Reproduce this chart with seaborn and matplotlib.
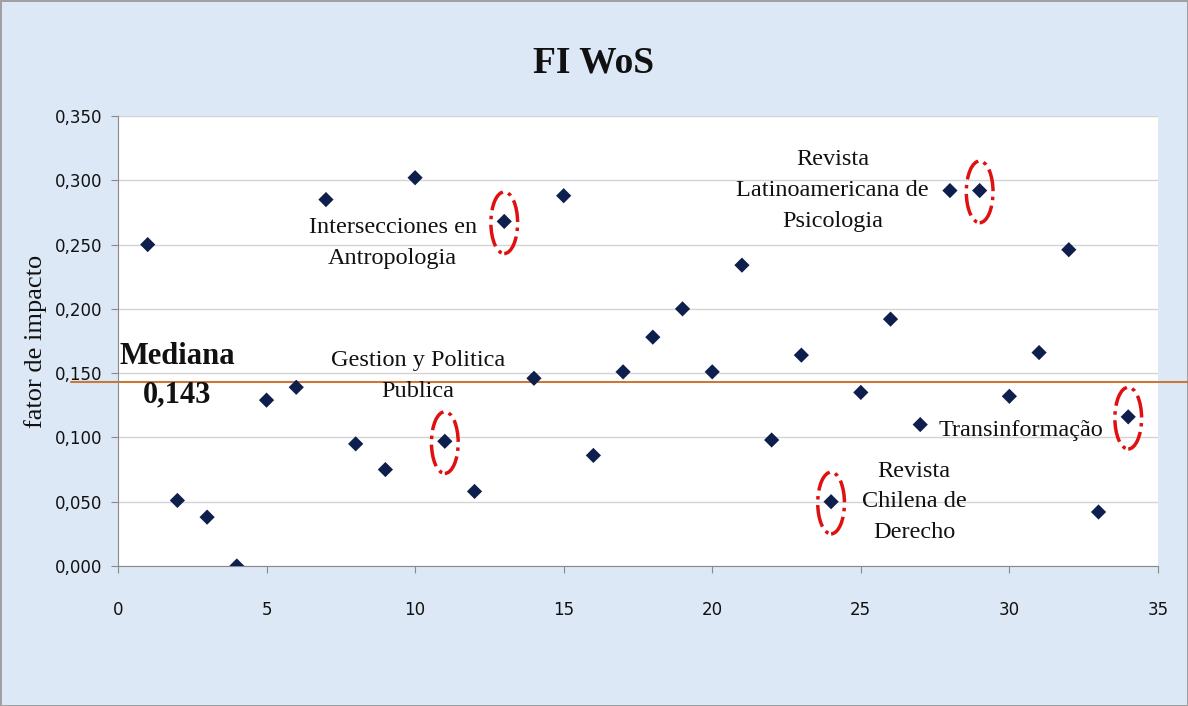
import pandas as pd
import matplotlib.pyplot as plt
import seaborn as sns
from matplotlib.patches import Ellipse
from matplotlib.ticker import FuncFormatter, MultipleLocator

sns.set_style("white")
plt.rcParams['font.family'] = ['Liberation Serif', 'DejaVu Serif']
plt.rcParams['text.color'] = '#111111'
plt.rcParams['axes.labelcolor'] = '#111111'
plt.rcParams['xtick.color'] = '#111111'
plt.rcParams['ytick.color'] = '#111111'

# journal index and its WoS impact factor
journal = list(range(1, 35))
fator = [0.250, 0.051, 0.038, 0.000, 0.129, 0.139, 0.285, 0.095, 0.075, 0.302,
         0.097, 0.058, 0.268, 0.146, 0.288, 0.086, 0.151, 0.178, 0.200, 0.151,
         0.234, 0.098, 0.164, 0.050, 0.135, 0.192, 0.110, 0.292, 0.292, 0.132,
         0.166, 0.246, 0.042, 0.116]
mediana = 0.143

# highlighted journals (index) and their labels
destaque = [13, 11, 29, 24, 34]
rotulos = ["Intersecciones en\nAntropologia", "Gestion y Politica\nPublica",
           "Revista\nLatinoamericana de\nPsicologia", "Revista\nChilena de\nDerecho",
           "Transinformação"]
rotulo_x = [9.25, 10.1, 24.05, 26.8, 30.4]
rotulo_y = [0.251, 0.148, 0.292, 0.050, 0.105]

df = pd.DataFrame({"journal": journal, "fator": fator})

fig = plt.figure(figsize=(11.88, 7.06), dpi=100)
fig.patch.set_facecolor("#dce8f6")
fig.patch.set_edgecolor("#a0a0a0")
fig.patch.set_linewidth(2)
ax = fig.add_axes([0.0993, 0.1983, 0.8754, 0.6374])
ax.set_facecolor("white")

sns.scatterplot(data=df, x="journal", y="fator", marker="D", s=60,
                color="#0f1f4d", edgecolor="none", ax=ax, zorder=3)

ax.set_xlim(0, 35)
ax.set_ylim(0, 0.35)
ax.xaxis.set_major_locator(MultipleLocator(5))
ax.yaxis.set_major_locator(MultipleLocator(0.05))
ax.yaxis.set_major_formatter(FuncFormatter(lambda v, p: f"{v:.3f}".replace(".", ",")))
ax.grid(axis="y", color="#d4d4d4", linewidth=1)
ax.set_axisbelow(True)
for side in ["top", "right"]:
    ax.spines[side].set_visible(False)
for side in ["left", "bottom"]:
    ax.spines[side].set_color("#8a8a8a")
ax.tick_params(axis="both", direction="out", length=5, color="#8a8a8a",
               labelsize=12, labelcolor="#111111", left=True, bottom=True)
ax.tick_params(axis="x", pad=20)
ax.tick_params(axis="y", pad=6)
for lab in ax.get_xticklabels() + ax.get_yticklabels():
    lab.set_family(['Liberation Sans Narrow', 'DejaVu Sans'])
ax.set_xlabel("")
ax.set_ylabel("fator de impacto", fontsize=19, labelpad=6)

# median line, running past the plot area
ax.axhline(mediana, xmin=-0.045, xmax=1.03, color="#c8783a", linewidth=1.5,
           clip_on=False, zorder=2)
ax.text(2.0, 0.148, "Mediana\n0,143", ha="center", va="center", fontsize=22,
        fontweight="bold", linespacing=1.4)

# dashed red ellipses around highlighted journals
for j in destaque:
    ax.add_patch(Ellipse((j, fator[j - 1] - 0.001), 0.9, 0.048, fill=False,
                         edgecolor="#e01010", linewidth=2.5, linestyle="-.",
                         zorder=4))
for t, x, y in zip(rotulos, rotulo_x, rotulo_y):
    ax.text(x, y, t, ha="center", va="center", fontsize=17.5, linespacing=1.6)

fig.suptitle("FI WoS", x=0.5, y=0.935, fontsize=27, fontweight="bold")
fig.savefig("out.png", dpi=100, facecolor=fig.get_facecolor(),
            edgecolor=fig.get_edgecolor())
